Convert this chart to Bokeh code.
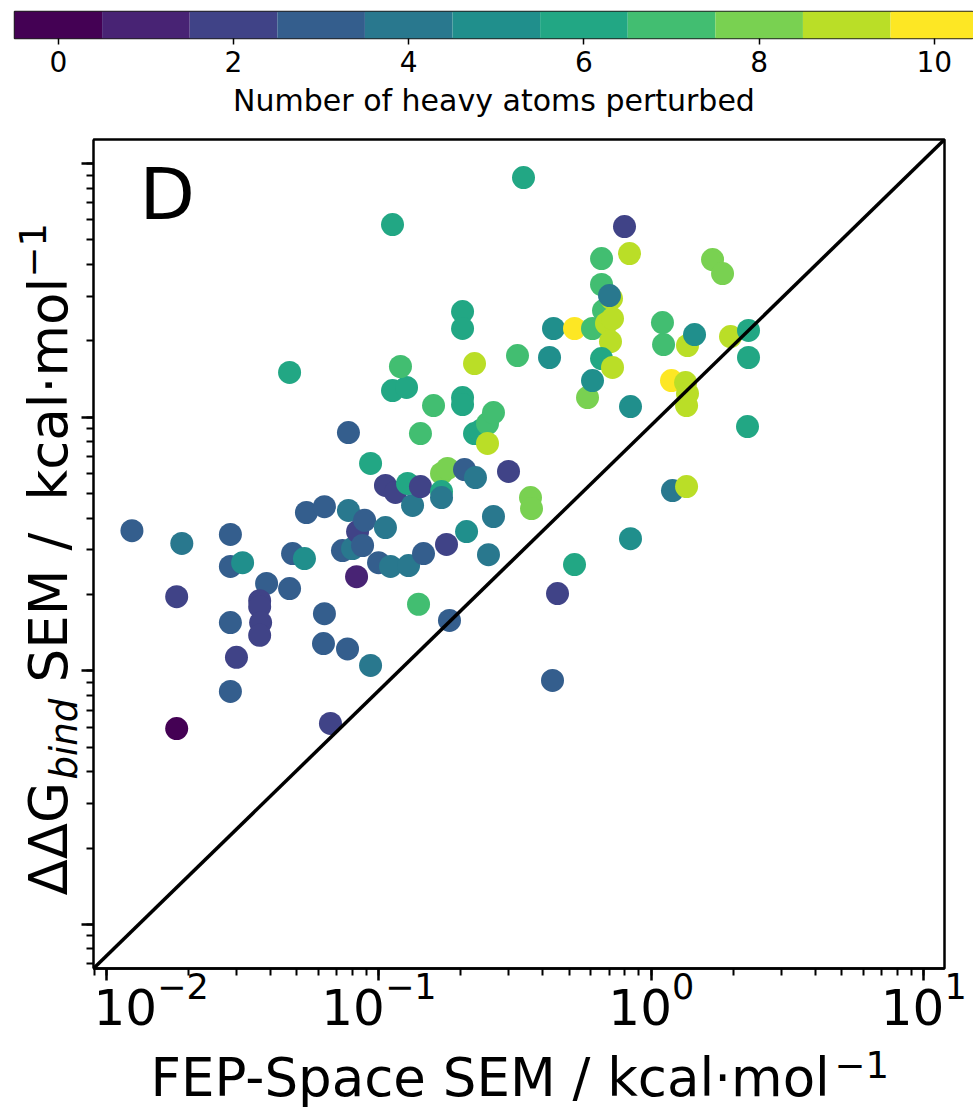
import math
from bokeh.plotting import figure
from bokeh.models import (Range1d, Label, LogTicker, FixedTicker, CustomJSTickFormatter,
                          ColumnDataSource, LogAxis, LogScale, LogTickFormatter)
from bokeh.layouts import row
from bokeh.palettes import Viridis11
from bokeh.transform import linear_cmap
from bokeh.embed import file_html
from bokeh.resources import INLINE
from bokeh.core.properties import value

# ---------------- data ----------------
fep_sem = [
    0.0124, 0.0181, 0.0181, 0.0189, 0.0285, 0.0285, 0.0316, 0.0285, 0.0300, 0.0285,
    0.0387, 0.0365, 0.0365, 0.0368, 0.0365, 0.0470, 0.0482, 0.0470, 0.0542, 0.0533,
    0.0631, 0.0631, 0.0626, 0.0664, 0.0773, 0.0773, 0.0735, 0.0800, 0.0835, 0.0886,
    0.0828, 0.0767, 0.0932, 0.0932, 0.0871, 0.1057, 0.1057, 0.1150, 0.0997, 0.1103,
    0.1122, 0.1122, 0.1263, 0.1200, 0.1274, 0.1329, 0.1421, 0.1285, 0.1398, 0.1458,
    0.1771, 0.1816, 0.1587, 0.1421, 0.1698, 0.1786, 0.1698, 0.1698, 0.2028, 0.2028,
    0.2028, 0.2028, 0.2062, 0.2262, 0.2098, 0.2244, 0.2244, 0.2361, 0.2504, 0.2634,
    0.2504, 0.2525, 0.2634, 0.2991, 0.3227, 0.3395, 0.3602, 0.3633, 0.4230, 0.4375,
    0.4526, 0.4338, 0.5225, 0.5225, 0.5832, 0.6083, 0.6083, 0.6566, 0.6566, 0.6677,
    0.7143, 0.6848, 0.7023, 0.7204, 0.7082, 0.6566, 0.7204, 0.8387, 0.8387, 0.7972,
    0.8318, 1.099, 1.109, 1.196, 1.186, 1.336, 1.358, 1.358, 1.347, 1.347,
    1.441, 1.678, 1.826, 1.953, 2.274, 2.274, 2.255,
]
ddg_sem = [
    0.357, 0.196, 0.0592, 0.318, 0.345, 0.258, 0.267, 0.155, 0.113, 0.0829,
    0.221, 0.189, 0.179, 0.155, 0.138, 0.211, 0.290, 1.501, 0.421, 0.277,
    0.444, 0.168, 0.128, 0.062, 0.870, 0.429, 0.298, 0.3035, 0.354, 0.392,
    0.235, 0.122, 0.657, 0.105, 0.312, 0.367, 0.538, 0.505, 0.267, 0.258,
    5.75, 1.274, 1.310, 1.585, 0.548, 0.449, 0.533, 0.260, 0.183, 0.290,
    0.315, 0.158, 1.112, 0.862, 0.600, 0.628, 0.509, 0.482, 2.61, 2.238,
    1.196, 1.122, 0.622, 0.578, 0.354, 1.628, 0.862, 0.886, 0.9445, 1.043,
    0.788, 0.287, 0.406, 0.611, 1.751, 8.81, 0.482, 0.4365, 1.720, 2.238,
    0.2017, 0.0916, 0.2625, 2.238, 1.196, 2.238, 1.395, 4.224, 3.337, 2.634,
    2.938, 2.342, 3.019, 2.450, 1.988, 1.704, 1.571, 1.102, 0.332, 5.649,
    4.421, 2.363, 1.935, 0.514, 1.395, 1.370, 1.918, 1.240, 1.112, 0.533,
    2.119, 4.186, 3.687, 2.081, 2.198, 1.720, 0.919,
]
n_heavy = [
    3, 2, 0, 4, 3, 3, 5, 3, 2, 3,
    3, 2, 2, 2, 2, 3, 3, 6, 3, 5,
    3, 3, 3, 2, 3, 4, 3, 4, 2, 3,
    1, 3, 6, 4, 3, 4, 2, 2, 3, 4,
    6, 6, 6, 7, 6, 4, 2, 4, 7, 3,
    2, 3, 7, 7, 8, 8, 6, 4, 6, 6,
    6, 6, 3, 4, 5, 9, 6, 6, 7, 7,
    9, 4, 4, 2, 7, 6, 8, 8, 5, 5,
    2, 3, 6, 10, 8, 7, 5, 7, 7, 7,
    9, 9, 4, 9, 9, 6, 9, 5, 5, 2,
    9, 7, 7, 4, 10, 9, 9, 9, 9, 9,
    5, 8, 8, 9, 6, 6, 6,
]
cbar_levels = list(range(11))
cbar_ticks = [0, 2, 4, 6, 8, 10]
x_lims = [0.00896, 11.92]
y_lims = [0.00670, 12.45]

FONT = "DejaVu Sans"
BL = 0.38   # renderer baseline correction (fraction of font size)
H_MAIN = 921

# ---------------- colour bar (own root) ----------------
cb = figure(width=973, height=120, x_range=Range1d(-0.5, 10.447), y_range=Range1d(0, 1),
            output_backend="svg", toolbar_location=None, y_axis_location=None,
            min_border_left=14, min_border_right=0, min_border_top=11, min_border_bottom=81)
cb.quad(left=[v - 0.5 for v in cbar_levels], right=[v + 0.5 for v in cbar_levels],
        bottom=0, top=1, fill_color=list(Viridis11), line_color=None)
cb.xgrid.visible = False
cb.ygrid.visible = False
cb.outline_line_color = "#222222"
cb.outline_line_width = 1.5
ax = cb.xaxis[0]
ax.ticker = FixedTicker(ticks=cbar_ticks, minor_ticks=[])
ax.axis_line_color = None
ax.major_tick_in = 0
ax.major_tick_out = 6
ax.major_tick_line_width = 1.5
ax.major_tick_line_color = "black"
ax.minor_tick_line_color = None
ax.major_label_text_font = FONT
ax.major_label_text_font_size = "28px"
ax.major_label_text_color = "black"
ax.major_label_standoff = 6
ax.axis_label = "Number of heavy atoms perturbed"
ax.axis_label_text_font = FONT
ax.axis_label_text_font_size = "30px"
ax.axis_label_text_font_style = "normal"
ax.axis_label_text_color = "black"
ax.axis_label_standoff = 8

# ---------------- scatter ----------------
p = figure(width=880, height=H_MAIN, x_axis_type="log", y_axis_type="log",
           x_range=Range1d(*x_lims), y_range=Range1d(*y_lims),
           output_backend="svg", toolbar_location=None, y_axis_location=None,
           min_border_left=0, min_border_right=29, min_border_top=19, min_border_bottom=73)
p.xgrid.visible = False
p.ygrid.visible = False
p.outline_line_color = "black"
p.outline_line_width = 2.5

src = ColumnDataSource(dict(fep=fep_sem, ddg=ddg_sem, n=n_heavy))
p.scatter(x="fep", y="ddg", size=23, source=src, line_color=None,
          fill_color=linear_cmap("n", list(Viridis11), -0.5, 10.5))
p.line(x=x_lims, y=y_lims, line_color="black", line_width=3.5)

xa = p.xaxis[0]
xa.ticker = LogTicker(num_minor_ticks=10)
xa.formatter = LogTickFormatter()
xa.axis_line_color = "black"
xa.axis_line_width = 2.5
xa.major_tick_in = 0
xa.major_tick_out = 12
xa.major_tick_line_width = 2.5
xa.minor_tick_in = 0
xa.minor_tick_out = 7
xa.minor_tick_line_width = 2
xa.major_label_text_font = FONT
xa.major_label_text_font_size = "50px"
xa.major_label_text_color = "black"
xa.major_label_standoff = -9

p.add_layout(Label(x=46, y=775, x_units="screen", y_units="screen", text="D",
                   text_font=FONT, text_font_size="72px", text_color="black",
                   text_align="left", text_baseline="alphabetic"))

# ---------------- y-axis panel: log ticks (pointing left) + title ----------------
yl = figure(width=93, height=H_MAIN, x_range=Range1d(0, 93), y_range=Range1d(968, 139),
            output_backend="svg", toolbar_location=None, x_axis_location=None,
            y_axis_location=None, min_border_left=0, min_border_right=0,
            min_border_top=19, min_border_bottom=73, outline_line_color=None)
yl.xgrid.visible = False
yl.ygrid.visible = False
yl.extra_y_ranges = {"log": Range1d(*y_lims)}
yl.extra_y_scales = {"log": LogScale()}
ya = LogAxis(y_range_name="log", ticker=LogTicker(num_minor_ticks=10),
             formatter=CustomJSTickFormatter(code="return ''"))
ya.axis_line_color = "black"
ya.axis_line_width = 2.5
ya.major_tick_out = 0
ya.major_tick_in = 12
ya.major_tick_line_width = 2.5
ya.minor_tick_out = 0
ya.minor_tick_in = 7
ya.minor_tick_line_width = 2
ya.major_label_standoff = 0
ya.major_label_text_font_size = "1px"
yl.add_layout(ya, "right")


def put(fig, bx, by, text, size, angle=0.0, style="normal"):
    # (bx, by): wanted baseline start of the text piece
    if angle:
        ax_, ay_ = bx - BL * size, by
    else:
        ax_, ay_ = bx, by - BL * size
    fig.text(x=[ax_], y=[ay_], text=[text], angle=angle, text_font=value(FONT),
             text_font_size=value(f"{size}px"), text_font_style=value(style),
             text_color="black", text_align="left", text_baseline="alphabetic")


R = math.pi / 2
put(yl, 68, 895, "ΔΔG", 53, R)
put(yl, 78, 779, "bind", 37, R, "italic")
put(yl, 68, 682, "SEM", 53, R)
put(yl, 68, 550, "/", 53, R)
put(yl, 68, 500, "kcal·mol", 53, R)
put(yl, 46, 277, "−1", 37, R)

# ---------------- x-axis title panel ----------------
H_XL = 1114 - 120 - H_MAIN
xl = figure(width=973, height=H_XL, x_range=Range1d(0, 973), y_range=Range1d(1114, 1114 - H_XL),
            output_backend="svg", toolbar_location=None, x_axis_location=None,
            y_axis_location=None, min_border=0, outline_line_color=None)
xl.xgrid.visible = False
xl.ygrid.visible = False
put(xl, 150, 1097, "FEP-Space SEM / kcal·mol", 53)
put(xl, 834, 1078, "−1", 37)

html = file_html([cb, row(yl, p), xl], INLINE)
open("out.html", "w").write(html)
